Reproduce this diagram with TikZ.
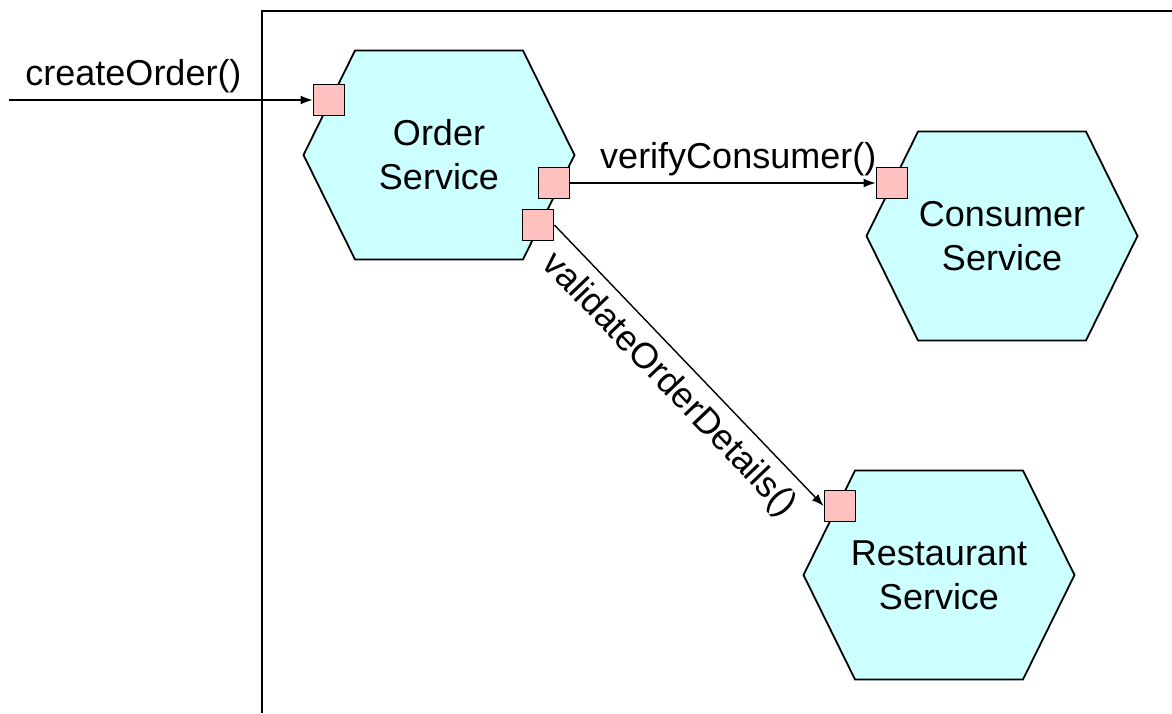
\documentclass[tikz,border=0pt]{standalone}
\usepackage{fontspec}
\setmainfont{Liberation Sans}
\usetikzlibrary{shapes.symbols,arrows.meta}
\definecolor{hexcyan}{HTML}{CCFFFF}
\definecolor{portpink}{HTML}{FFC0C0}

\begin{document}
\begin{tikzpicture}[x=0.5pt,y=-0.5pt,>={Latex[length=6pt,width=4.5pt]},
	every node/.style={font=\fontsize{18}{22}\selectfont},
	service/.style={draw,line width=0.9pt,fill=hexcyan,signal,signal to=east and west,
		signal pointer angle=127.5,minimum width=135.5pt,minimum height=104.5pt,
		align=center,inner ysep=0pt,inner xsep=-3pt},
	port/.style={draw,line width=0.9pt,fill=portpink,minimum size=15.5pt,inner sep=0pt}]
					\useasboundingbox (0,0) rectangle (1172,713);
					\draw[line width=0.9pt] (1172,11) -- (262,11) -- (262,713);
					\node[service] (order) at (439,155) {Order\\Service};
					\node[service] (consumer) at (1002,236) {Consumer\\Service};
					\node[service] (restaurant) at (939,575) {Restaurant\\Service};
					\node[port] (oin) at (329,100) {};
					\node[port] (oout) at (554,183) {};
					\node[port] (ovalid) at (538,225) {};
					\node[port] (cin) at (892,183) {};
					\node[port] (rin) at (840,506) {};
					\coordinate (client) at (9,100);
					\draw[->,line width=0.7pt] (client) to node[pos=0.41,above] {createOrder()}(oin);
					\draw[->,line width=0.7pt] (oout) to node[pos=0.55,above] {verifyConsumer()}(cin);
					\draw[->,line width=0.7pt] (ovalid.east) to node[pos=0.5,sloped,below=2pt] {validateOrderDetails()}(rin.west);
				\end{tikzpicture}
\end{document}
